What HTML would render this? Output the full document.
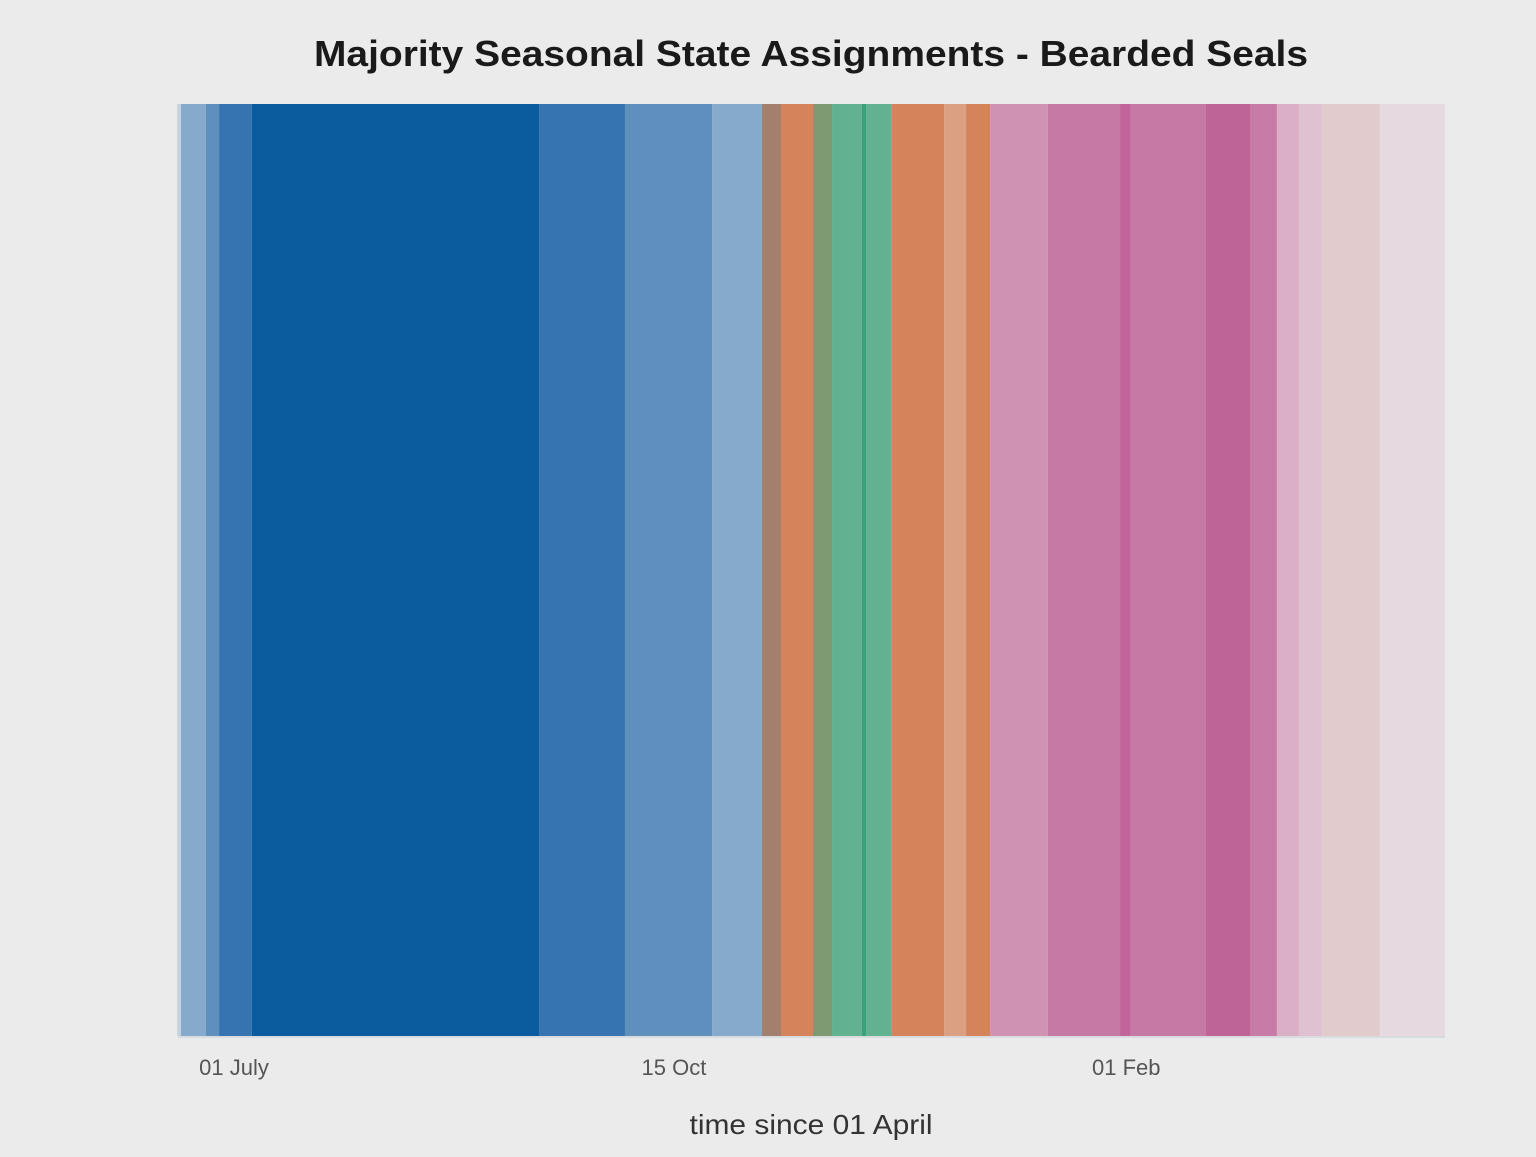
<!DOCTYPE html>
<html><head><meta charset="utf-8"><style>
body{margin:0;background:#ebebeb;}
svg text{font-family:"Liberation Sans",sans-serif;}
</style></head><body>
<svg width="1536" height="1152">
<rect x="0" y="0" width="1536" height="1152" fill="#ebebeb"/>
<text x="811" y="66" text-anchor="middle" font-size="36" font-weight="bold" fill="#1a1a1a" textLength="994" lengthAdjust="spacingAndGlyphs">Majority Seasonal State Assignments - Bearded Seals</text>
<g id="bands"></g>
<rect x="178" y="1036" width="1267" height="2" fill="#d8dce0"/>
<g id="ticks"></g>
<text x="811" y="1134" text-anchor="middle" font-size="28" fill="#333" textLength="243" lengthAdjust="spacingAndGlyphs">time since 01 April</text>
</svg>
<script>
const bandStarts = [77.3,78.2,84.2,87.4,95.3,164.5,185.2,206.2,218.2,222.8,230.5,235.1,242.3,243.3,249.5,262.1,267.4,273.2,287.1,304.5,307.1,325.2,336.0,342.3,347.6,353.2,367.1];
const bandEnds = [78.2,84.2,87.4,95.3,164.5,185.2,206.2,218.2,222.8,230.5,235.1,242.3,243.3,249.5,262.1,267.4,273.2,287.1,304.5,307.1,325.2,336.0,342.3,347.6,353.2,367.1,382.8];
const bandColors = ["#c5d2df","#86aacb","#5f90bd","#3574b0","#0b5c9f","#3574b0","#5f90bd","#86aacb","#a57f6e","#d4835a","#7e9a72","#62b191","#3aa27a","#62b191","#d4835a","#dba082","#d4835a","#cf92b3","#c779a5","#c0649a","#c779a5","#bf6496","#c97ba8","#dbafc6","#e0c1d1","#e1cbcc","#e6d9df"];
const tickDays = [91,197,306];
const tickLabels = ["01 July","15 Oct","01 Feb"];
const x0=178,x1=1445,d0=77.5,d1=382.8,yTop=104,yBot=1036;
function xs(d){return x0+(d-d0)*(x1-x0)/(d1-d0);}
const NS="http://www.w3.org/2000/svg";
const bg=document.getElementById('bands');
for(let i=0;i<bandStarts.length;i++){
  const r=document.createElementNS(NS,'rect');
  const a=Math.max(x0-1,xs(bandStarts[i])), b=xs(bandEnds[i]);
  r.setAttribute('x',a);r.setAttribute('y',yTop);
  r.setAttribute('width',b-a);r.setAttribute('height',yBot-yTop);
  r.setAttribute('fill',bandColors[i]);
  
  
  bg.appendChild(r);
}
const tg=document.getElementById('ticks');
for(let i=0;i<tickDays.length;i++){
  const t=document.createElementNS(NS,'text');
  t.setAttribute('x',xs(tickDays[i]));t.setAttribute('y',1075);
  t.setAttribute('text-anchor','middle');t.setAttribute('font-size','22');t.setAttribute('fill','#555');
  t.textContent=tickLabels[i];
  
  
  tg.appendChild(t);
}
</script>
</body></html>
